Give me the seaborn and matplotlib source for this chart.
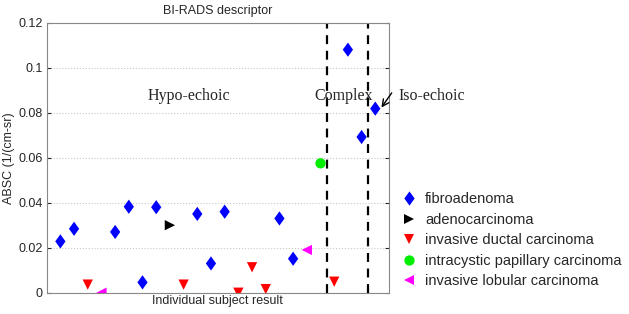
import matplotlib
matplotlib.use('Agg')
import matplotlib.pyplot as plt
import seaborn as sns
import pandas as pd

# subject index -> ABSC value, per diagnosis
fibro_x = [1, 2, 5, 6, 7, 8, 11, 12, 13, 17, 18, 22, 23, 24]
fibro_y = [0.0228, 0.0284, 0.027, 0.0382, 0.0046, 0.038, 0.035, 0.013, 0.036, 0.033, 0.0151, 0.108, 0.0692, 0.0818]
adeno_x = [9]
adeno_y = [0.030]
idc_x = [3, 10, 14, 15, 16, 21]
idc_y = [0.0036, 0.0036, 0.0, 0.0113, 0.0016, 0.0049]
icpc_x = [20]
icpc_y = [0.0575]
ilc_x = [4, 19]
ilc_y = [0.0, 0.019]

groups = ['fibroadenoma', 'adenocarcinoma', 'invasive ductal carcinoma',
          'intracystic papillary carcinoma', 'invasive lobular carcinoma']
colors = ['#0000ff', '#000000', '#ff0000', '#00ee00', '#ff00ff']
# MATLAB-style diamond: a bit narrower than 'D', wider than 'd'
diamond = [(0, 1), (0.72, 0), (0, -1), (-0.72, 0), (0, 1)]
markers = [diamond, '>', 'v', 'o', '<']
marker_area = [105, 55, 55, 55, 55]
boundaries = [20.5, 23.5]

rows = []
for g, xs, ys in zip(groups, [fibro_x, adeno_x, idc_x, icpc_x, ilc_x],
                     [fibro_y, adeno_y, idc_y, icpc_y, ilc_y]):
    for x, y in zip(xs, ys):
        rows.append({'subject': x, 'ABSC': y, 'type': g})
df = pd.DataFrame(rows)

sns.set_style('white')
plt.rcParams['font.family'] = ['Liberation Sans', 'DejaVu Sans']

fig = plt.figure(figsize=(6.29, 3.14), dpi=100)
ax = fig.add_axes([0.0742, 0.0678, 0.5442, 0.86])

sns.scatterplot(data=df, x='subject', y='ABSC', hue='type', style='type', size='type',
                hue_order=groups, style_order=groups, size_order=groups,
                palette=dict(zip(groups, colors)), markers=dict(zip(groups, markers)),
                sizes=dict(zip(groups, marker_area)),
                linewidth=0, ax=ax, zorder=3)

for b in boundaries:
    ax.axvline(b, color='black', linestyle=(0, (4, 3)), linewidth=1.6, zorder=2)

ax.set_xlim(0, 25)
ax.set_ylim(0, 0.12)
ax.set_yticks([0, 0.02, 0.04, 0.06, 0.08, 0.1, 0.12])
ax.set_yticklabels(['0', '0.02', '0.04', '0.06', '0.08', '0.1', '0.12'])
ax.set_xticks([])
ax.yaxis.grid(True, color='#c8c8c8', linestyle=':', linewidth=0.8)
ax.tick_params(axis='y', direction='in', length=3, labelsize=9, right=True, left=True, pad=3)
for sp in ax.spines.values():
    sp.set_color('#888888')
    sp.set_linewidth(0.8)

ax.set_title('BI-RADS descriptor', fontsize=9, pad=6)
ax.set_xlabel('Individual subject result', fontsize=9, labelpad=2)
ax.set_ylabel('ABSC (1/(cm-sr)', fontsize=9, labelpad=2)

serif = ['Liberation Serif', 'DejaVu Serif']
ax.text(10.36, 0.0874, 'Hypo-echoic', family=serif, fontsize=11.5, ha='center', va='center')
ax.text(21.7, 0.0872, 'Complex', family=serif, fontsize=11.5, ha='center', va='center')
ax.text(25.72, 0.0872, 'Iso-echoic', family=serif, fontsize=11.5, ha='left', va='center',
        clip_on=False)
ax.annotate('', xy=(24.39, 0.0818), xytext=(25.2, 0.0888), annotation_clip=False,
            arrowprops=dict(arrowstyle='->', color='black', lw=1.0,
                            shrinkA=0, shrinkB=1, mutation_scale=12))

leg = ax.legend(loc='upper left', bbox_to_anchor=(1.02, 0.394), frameon=False,
                fontsize=10.5, handletextpad=0.6, labelspacing=0.45,
                handlelength=1.0, borderaxespad=0)

fig.savefig('out.png', dpi=100)
